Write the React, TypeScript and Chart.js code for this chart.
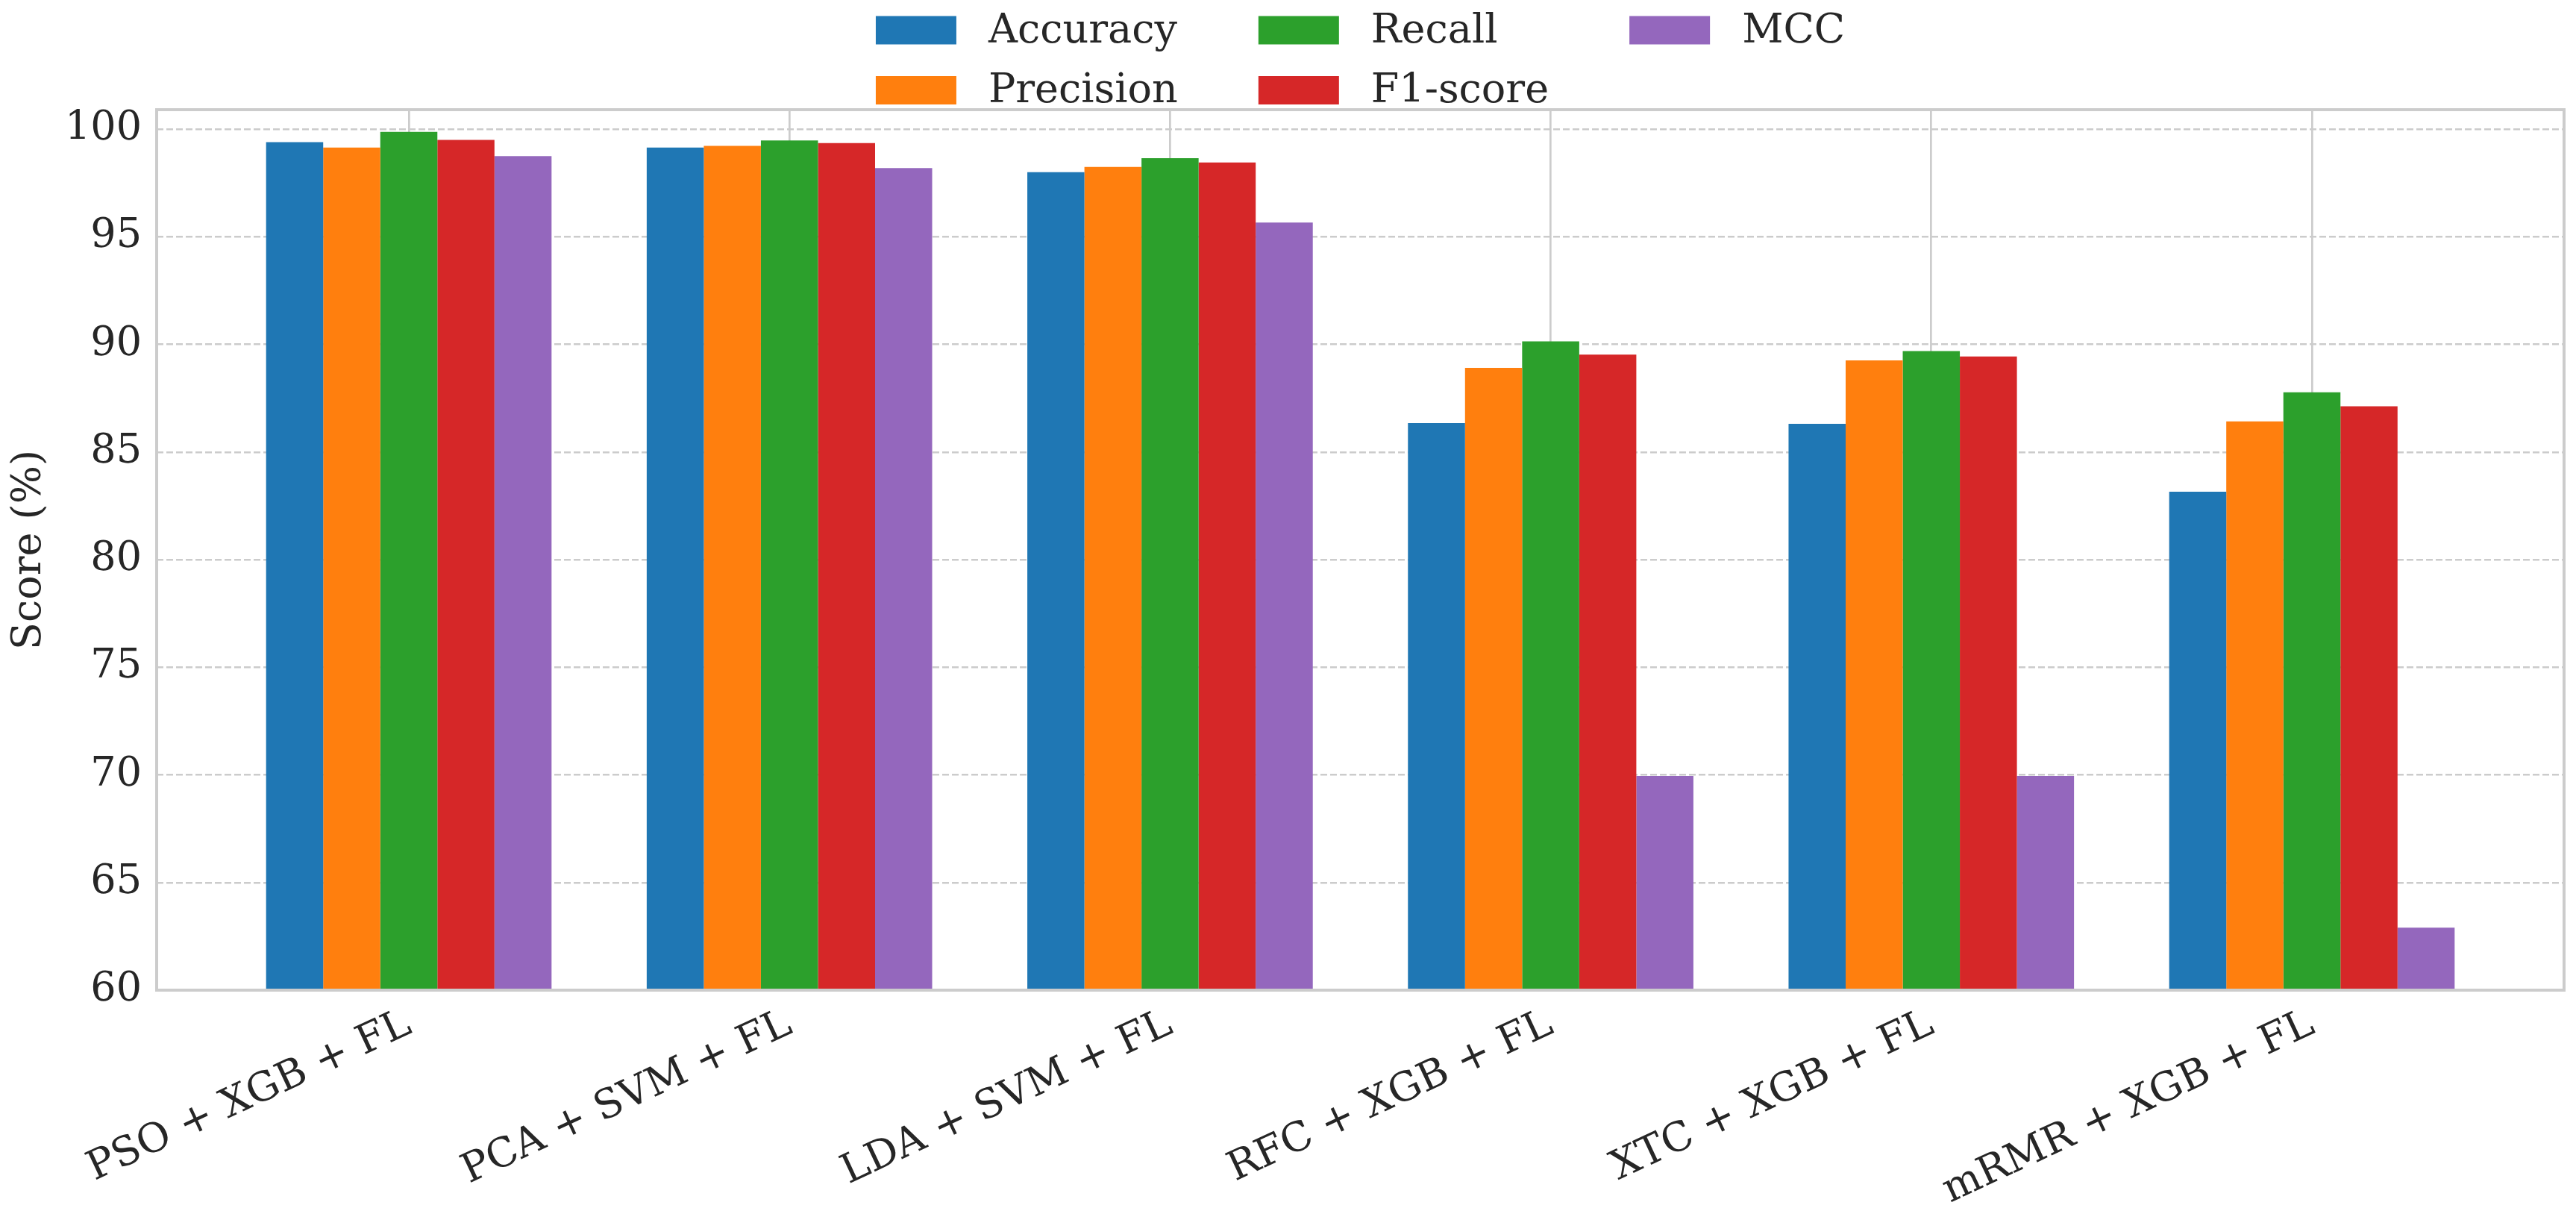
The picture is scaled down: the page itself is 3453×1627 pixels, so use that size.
import { useEffect, useRef } from 'react';
import { Chart, registerables } from 'chart.js';

Chart.register(...registerables);

const categories = ['PSO + XGB + FL', 'PCA + SVM + FL', 'LDA + SVM + FL', 'RFC + XGB + FL', 'XTC + XGB + FL', 'mRMR + XGB + FL'];
const accuracy = [99.39, 99.14, 98.0, 86.34, 86.31, 83.15];
const precision = [99.14, 99.22, 98.24, 88.91, 89.25, 86.42];
const recall = [99.87, 99.47, 98.65, 90.14, 89.69, 87.77];
const f1Score = [99.5, 99.35, 98.45, 89.52, 89.44, 87.12];
const mcc = [98.74, 98.19, 95.66, 69.95, 69.95, 62.9];
const yTicks = [60, 65, 70, 75, 80, 85, 90, 95, 100];

const seriesNames = ['Accuracy', 'Precision', 'Recall', 'F1-score', 'MCC'];
const seriesColors = ['#1f77b4', '#ff7f0e', '#2ca02c', '#d62728', '#9467bd'];

const W = 3453;
const H = 1627;
const FONT = 'DejaVu Serif';
const TEXT = '#262626';

// matplotlib style legend: 3 columns, filled column by column
const legendPlugin = {
    id: 'colLegend',
    afterDraw(chart: any) {
        const ctx = chart.ctx;
        const area = chart.chartArea;
        const ds = chart.data.datasets;
        const fs = 54;
        const boxW = 108;
        const boxH = 38;
        const pad = 43;
        const colGap = 108;
        const rows = 2;
        const rowY = [40.5, 121];
        ctx.save();
        ctx.font = `${fs}px "${FONT}"`;
        const cols: number[][] = [];
        ds.forEach((_: any, i: number) => {
            const c = Math.floor(i / rows);
            (cols[c] = cols[c] || []).push(i);
        });
        const colW = cols.map((idx) => boxW + pad + Math.max(...idx.map((i) => ctx.measureText(ds[i].label).width)));
        const total = colW.reduce((a, b) => a + b, 0) + colGap * (cols.length - 1);
        let x = (area.left + area.right) / 2 - total / 2;
        cols.forEach((idx, c) => {
            idx.forEach((i, r) => {
                const y = rowY[r];
                ctx.fillStyle = ds[i].backgroundColor;
                ctx.fillRect(x, y - boxH / 2, boxW, boxH);
                ctx.fillStyle = TEXT;
                ctx.textAlign = 'left';
                ctx.textBaseline = 'middle';
                ctx.fillText(ds[i].label, x + boxW + pad, y + 2);
            });
            x += colW[c] + colGap;
        });
        ctx.restore();
    },
};

const framePlugin = {
    id: 'frame',
    afterDatasetsDraw(chart: any) {
        const { ctx, chartArea } = chart;
        ctx.save();
        ctx.strokeStyle = '#cccccc';
        ctx.lineWidth = 4;
        ctx.strokeRect(chartArea.left, chartArea.top, chartArea.right - chartArea.left, chartArea.bottom - chartArea.top);
        ctx.restore();
    },
};

const ScoreChart = () => {
    const chartRef = useRef<HTMLCanvasElement | null>(null);

    useEffect(() => {
        const ctx = chartRef.current?.getContext('2d');
        if (!ctx) return;

        const values = [accuracy, precision, recall, f1Score, mcc];

        const myChart = new Chart(ctx, {
            type: 'bar',
            data: {
                datasets: values.map((vals, s) => ({
                    label: seriesNames[s],
                    data: vals.map((v, i) => ({ x: i, y: v })),
                    backgroundColor: seriesColors[s],
                    borderWidth: 0,
                    categoryPercentage: 0.75,
                    barPercentage: 1.0,
                })),
            },
            options: {
                responsive: false,
                animation: false,
                devicePixelRatio: 1,
                layout: { padding: { top: 147, right: 16, left: 0, bottom: 0 } },
                plugins: {
                    legend: { display: false },
                    tooltip: { enabled: false },
                },
                scales: {
                    x: {
                        type: 'linear',
                        min: -0.6625,
                        max: 5.6625,
                        offset: false,
                        afterBuildTicks: (scale: any) => {
                            scale.ticks = categories.map((_, i) => ({ value: i }));
                        },
                        afterFit: (scale: any) => {
                            scale.height = H - 1327;
                        },
                        grid: { color: '#cccccc', lineWidth: 2.7, drawTicks: false, offset: false },
                        border: { display: false },
                        ticks: {
                            autoSkip: false,
                            minRotation: 25,
                            maxRotation: 25,
                            padding: 14,
                            color: TEXT,
                            font: { family: FONT, size: 54 },
                            callback: (value: any) => categories[value] ?? '',
                        },
                    },
                    y: {
                        min: 60,
                        max: 100.9,
                        afterBuildTicks: (scale: any) => {
                            scale.ticks = yTicks.map((v) => ({ value: v }));
                        },
                        afterFit: (scale: any) => {
                            scale.width = 210;
                        },
                        grid: { color: '#cccccc', lineWidth: 2.4, drawTicks: false },
                        border: { display: false, dash: [9, 4] },
                        ticks: {
                            padding: 20,
                            color: TEXT,
                            font: { family: FONT, size: 54 },
                            callback: (value: any) => String(value),
                        },
                        title: {
                            display: true,
                            text: 'Score (%)',
                            color: TEXT,
                            font: { family: FONT, size: 54 },
                            padding: { top: 8, bottom: 0 },
                        },
                    },
                },
            },
            plugins: [framePlugin, legendPlugin],
        } as any);

        return () => {
            myChart.destroy();
        };
    }, []);

    return (
        <div style={{ position: 'fixed', left: 0, top: 0, width: W, height: H, background: '#fff' }}>
            <canvas ref={chartRef} width={W} height={H} style={{ width: W, height: H }} />
        </div>
    );
};

export default function App() {
    return <ScoreChart />;
}
